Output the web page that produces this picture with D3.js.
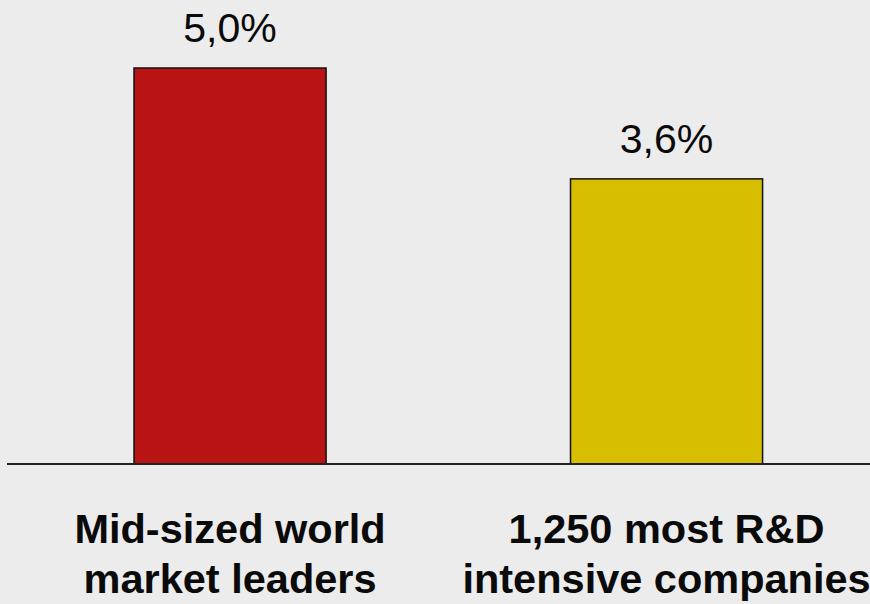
<!DOCTYPE html>
<html>
<head>
<meta charset="utf-8">
<script src="https://cdn.jsdelivr.net/npm/d3@7"></script>
<style>
  html, body { margin: 0; padding: 0; background: #ececec; }
  svg { display: block; }
</style>
</head>
<body>
<svg id="chart" width="870" height="604"></svg>
<script>
// data
const categories = ["Mid-sized world\nmarket leaders", "1,250 most R&D\nintensive companies"];
const values = [5.0, 3.6];
const colors = ["#b81414", "#d8be00"];

const svg = d3.select("#chart");
const width = 870;
const height = 604;
const baseY = 464;
const font = "'Liberation Sans', Arial, sans-serif";

svg.append("rect")
    .attr("width", width)
    .attr("height", height)
    .attr("fill", "#ececec");

// scales
const x = d3.scaleBand()
    .domain(categories)
    .range([11.8, 884.8])
    .paddingInner(0.56)
    .paddingOuter(0.28);

const y = d3.scaleLinear()
    .domain([0, 5])
    .range([baseY, 68]);

const fmt = v => d3.format(".1f")(v).replace(".", ",") + "%";

// BARS
svg.selectAll("rect.bar")
    .data(categories)
    .enter().append("rect")
    .attr("class", "bar")
    .attr("x", d => x(d))
    .attr("y", (d, i) => y(values[i]))
    .attr("width", x.bandwidth())
    .attr("height", (d, i) => baseY - y(values[i]))
    .attr("fill", (d, i) => colors[i])
    .attr("stroke", "#111")
    .attr("stroke-width", 1.5);

// value labels
svg.selectAll("text.value")
    .data(categories)
    .enter().append("text")
    .attr("class", "value")
    .attr("x", d => x(d) + x.bandwidth() / 2)
    .attr("y", (d, i) => y(values[i]) - 26)
    .attr("text-anchor", "middle")
    .attr("font-family", font)
    .attr("font-size", 41)
    .attr("fill", "#0a0a0a")
    .text((d, i) => fmt(values[i]));

// baseline
svg.append("line")
    .attr("x1", 7)
    .attr("x2", width)
    .attr("y1", baseY)
    .attr("y2", baseY)
    .attr("stroke", "#222")
    .attr("stroke-width", 2);

// category labels, two lines each
const cat = svg.selectAll("text.cat")
    .data(categories)
    .enter().append("text")
    .attr("class", "cat")
    .attr("text-anchor", "middle")
    .attr("font-family", font)
    .attr("font-weight", "bold")
    .attr("font-size", 41.5)
    .attr("fill", "#0a0a0a");

cat.selectAll("tspan")
    .data(d => d.split("\n").map(t => ({ t, cx: x(d) + x.bandwidth() / 2 })))
    .enter().append("tspan")
    .attr("x", d => d.cx)
    .attr("y", (d, i) => 543 + i * 50)
    .text(d => d.t);
</script>
</body>
</html>
